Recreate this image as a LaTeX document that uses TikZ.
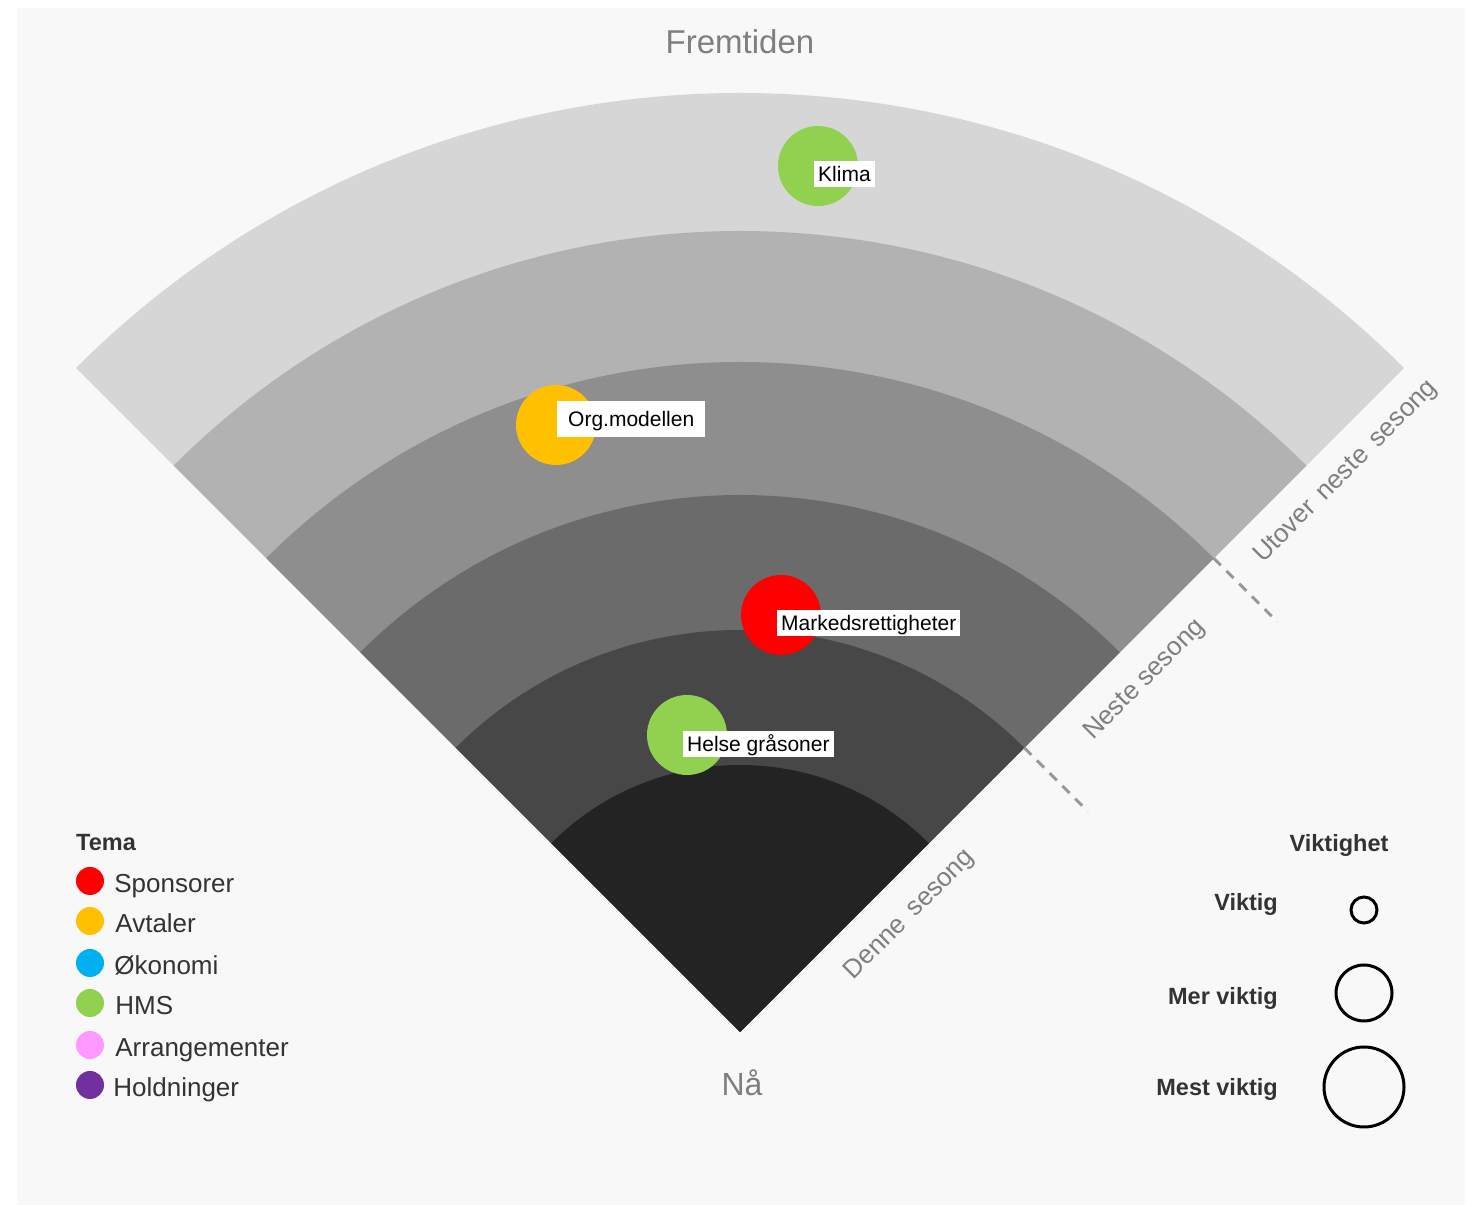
\documentclass[tikz,border=0pt]{standalone}
\usepackage{fontspec}
\setmainfont{Liberation Sans}
\usetikzlibrary{positioning}

\definecolor{paper}{HTML}{F8F8F8}
\definecolor{ringA}{HTML}{D6D6D6}
\definecolor{ringB}{HTML}{B2B2B2}
\definecolor{ringC}{HTML}{8E8E8E}
\definecolor{ringD}{HTML}{6B6B6B}
\definecolor{ringE}{HTML}{474747}
\definecolor{ringF}{HTML}{232323}
\definecolor{greytext}{HTML}{7F7F7F}
\definecolor{darktext}{HTML}{333333}
\definecolor{sponsred}{HTML}{FF0000}
\definecolor{avtorange}{HTML}{FFC000}
\definecolor{okoblue}{HTML}{00B0F0}
\definecolor{hmsgreen}{HTML}{92D050}
\definecolor{arrpink}{HTML}{FF99FF}
\definecolor{holdpurple}{HTML}{7030A0}

\begin{document}
\begin{tikzpicture}[x=1pt,y=1pt,
    bubble/.style={circle,inner sep=0pt,minimum size=80pt},
    tag/.style={fill=white,anchor=west,inner xsep=4pt,inner ysep=0pt,minimum height=26pt,
                text height=19pt,text depth=4pt,font=\fontsize{21}{25}\selectfont},
    seasontext/.style={rotate=45,inner sep=2pt,text=greytext,font=\fontsize{26}{30}\selectfont},
    tick/.style={draw=greytext!80,line width=3pt,dash pattern=on 10pt off 8pt},
    temadot/.style={circle,inner sep=0pt,minimum size=28pt},
    tematext/.style={inner sep=0pt,text height=18pt,text depth=0pt,yshift=-3pt,
                     text=darktext,font=\fontsize{26}{30}\selectfont},
    headtext/.style={inner sep=0pt,text=darktext,font=\fontsize{23.5}{28}\bfseries\selectfont},
    sizering/.style={circle,draw=black,line width=3pt,inner sep=0pt}]

	\useasboundingbox (0,0) rectangle (1478,1207);
	\fill[paper] (17,2) rectangle (1465,1199);
	
	\coordinate (apex) at (740,175);
	\begin{scope}[shift={(apex)}]
		\fill[ringA] (0,0) -- (45:939) arc (45:135:939) -- cycle;
		\fill[ringB] (0,0) -- (45:801) arc (45:135:801) -- cycle;
		\fill[ringC] (0,0) -- (45:670) arc (45:135:670) -- cycle;
		\fill[ringD] (0,0) -- (45:537) arc (45:135:537) -- cycle;
		\fill[ringE] (0,0) -- (45:402) arc (45:135:402) -- cycle;
		\fill[ringF] (0,0) -- (45:267) arc (45:135:267) -- cycle;
		
		\draw[tick] (45:670) -- ++(-45:90);
		\draw[tick] (45:402) -- ++(-45:90);
	\end{scope}
	
	\node[text=greytext,font=\fontsize{33}{36}\selectfont] (future) at (740,1165) {Fremtiden};
	\node[text=greytext,font=\fontsize{32}{36}\selectfont] (now) at (742,124) {Nå};
	
	\node[seasontext] (denne) at (910,292) {Denne\ \,sesong};
	\node[seasontext] (neste) at (1145,527) {Neste sesong};
	\node[seasontext] (utover) at (1346,735) {Utover\ \,neste\ \,sesong};
	
	\node[bubble,fill=hmsgreen] (klima) at (818,1041) {};
	\node[tag] (klimatag) at (814,1033) {Klima};
	
	\node[bubble,fill=avtorange] (org) at (556,782) {};
	\node[tag,inner xsep=11pt,minimum height=36pt] (orgtag) at (557,788) {Org.modellen};
	
	\node[bubble,fill=sponsred] (marked) at (781,592) {};
	\node[tag] (markedtag) at (777,584) {Markedsrettigheter};
	
	\node[bubble,fill=hmsgreen] (helse) at (687,472) {};
	\node[tag] (helsetag) at (683,463) {Helse gråsoner};
	
	\node[headtext,anchor=base west] (tema) at (76,356) {Tema};
	\node[temadot,fill=sponsred] (d1) at (90,326) {};
	\node[temadot,fill=avtorange] (d2) at (90,286) {};
	\node[temadot,fill=okoblue] (d3) at (90,244) {};
	\node[temadot,fill=hmsgreen] (d4) at (90,204) {};
	\node[temadot,fill=arrpink] (d5) at (90,162) {};
	\node[temadot,fill=holdpurple] (d6) at (90,122) {};
	\node[tematext,right=10pt of d1] (t1) {Sponsorer};
	\node[tematext,right=11pt of d2] (t2) {Avtaler};
	\node[tematext,right=10pt of d3] (t3) {Økonomi};
	\node[tematext,right=11pt of d4] (t4) {HMS};
	\node[tematext,right=11pt of d5] (t5) {Arrangementer};
	\node[tematext,right=9pt of d6] (t6) {Holdninger};
	
	\node[headtext,anchor=base] (viktighet) at (1339,355) {Viktighet};
	\node[sizering,minimum size=26pt] (v1) at (1364,297) {};
	\node[sizering,minimum size=56pt] (v2) at (1364,214) {};
	\node[sizering,minimum size=80pt] (v3) at (1364,120) {};
	\node[headtext,anchor=base east] (l1) at (1278,296) {Viktig};
	\node[headtext,anchor=base east] (l2) at (1278,202) {Mer viktig};
	\node[headtext,anchor=base east] (l3) at (1278,111) {Mest viktig};
\end{tikzpicture}
\end{document}
